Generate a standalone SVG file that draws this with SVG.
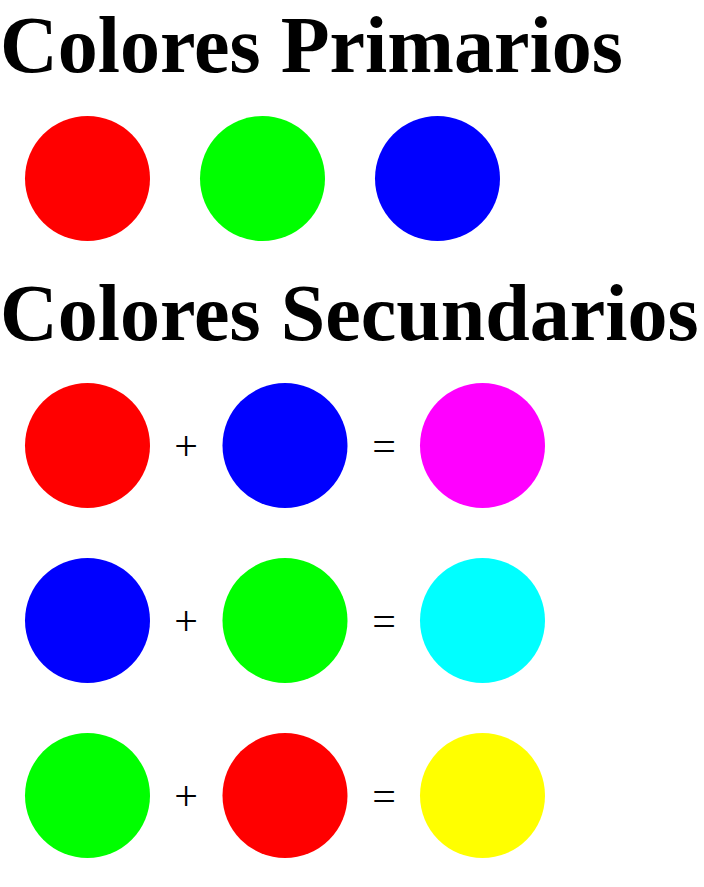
<svg xmlns="http://www.w3.org/2000/svg" width="704" height="887" viewBox="0 0 704 887">
<style>
.title{font-family:"Liberation Serif","Times New Roman",serif;font-weight:bold;font-size:80px;fill:#000}
.op{font-family:"Liberation Serif","Times New Roman",serif;font-size:42px;fill:#000;text-anchor:middle}
</style>
<rect width="704" height="887" fill="#fff"/>
<text class="title" x="0" y="72">Colores Primarios</text>
<g id="primarios">
<circle id="p-rojo" cx="87.5" cy="178.5" r="62.5" fill="#f00"/>
<circle id="p-verde" cx="262.5" cy="178.5" r="62.5" fill="#0f0"/>
<circle id="p-azul" cx="437.5" cy="178.5" r="62.5" fill="#00f"/>
</g>
<text class="title" x="0" y="340">Colores Secundarios</text>
<g id="fila1">
<circle cx="87.5" cy="445.5" r="62.5" fill="#f00"/>
<text class="op" x="186" y="460">+</text>
<circle cx="285" cy="445.5" r="62.5" fill="#00f"/>
<text class="op" x="384" y="460">=</text>
<circle cx="482.5" cy="445.5" r="62.5" fill="#f0f"/>
</g>
<g id="fila2">
<circle cx="87.5" cy="620.5" r="62.5" fill="#00f"/>
<text class="op" x="186" y="635">+</text>
<circle cx="285" cy="620.5" r="62.5" fill="#0f0"/>
<text class="op" x="384" y="635">=</text>
<circle cx="482.5" cy="620.5" r="62.5" fill="#0ff"/>
</g>
<g id="fila3">
<circle cx="87.5" cy="795.5" r="62.5" fill="#0f0"/>
<text class="op" x="186" y="810">+</text>
<circle cx="285" cy="795.5" r="62.5" fill="#f00"/>
<text class="op" x="384" y="810">=</text>
<circle cx="482.5" cy="795.5" r="62.5" fill="#ff0"/>
</g>
</svg>
